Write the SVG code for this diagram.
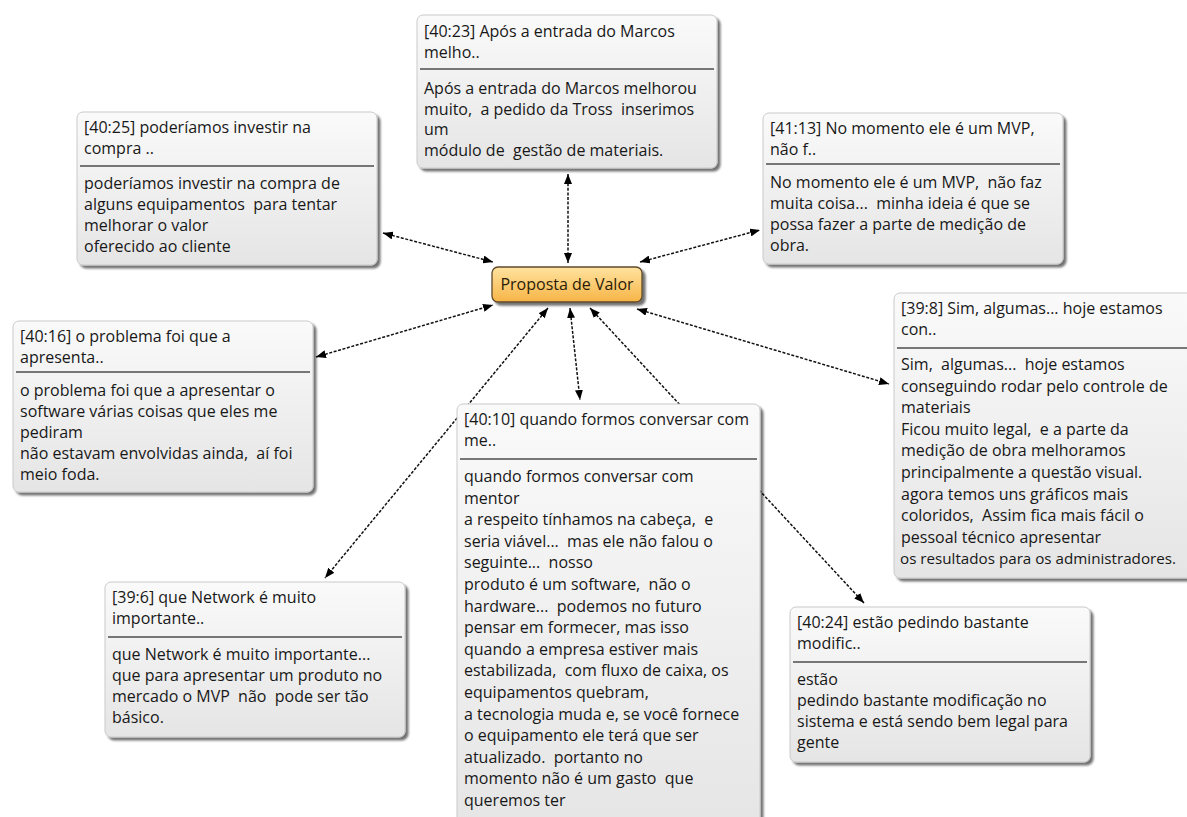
<svg xmlns="http://www.w3.org/2000/svg" width="1187" height="817" viewBox="0 0 1187 817" xml:space="preserve">
  <style>
    .box { fill: url(#boxFill); stroke: #c9c9c9; stroke-width: 1; filter: url(#shadow); }
    .sep { stroke: #4d4d4d; stroke-width: 1.6; }
    .txt { font-family: "Open Sans", "Liberation Sans", sans-serif; font-size: 16px; fill: #181818; white-space: pre; }
    .conn { fill: none; stroke: #111; stroke-width: 1.5; stroke-dasharray: 3 1.6; marker-start: url(#arrow); marker-end: url(#arrow); }
    .core { fill: url(#coreFill); stroke: #5e4a2c; stroke-width: 1.3; filter: url(#shadow); }
    .coreTxt { font-family: "Open Sans", "Liberation Sans", sans-serif; font-size: 16px; fill: #2a1c08; text-anchor: middle; }
  </style>
  <defs>
    <linearGradient id="boxFill" x1="0" y1="0" x2="0" y2="1">
      <stop offset="0" stop-color="#fafafa"/>
      <stop offset="1" stop-color="#e5e5e5"/>
    </linearGradient>
    <linearGradient id="coreFill" x1="0" y1="0" x2="0" y2="1">
      <stop offset="0" stop-color="#ffe3a0"/>
      <stop offset="1" stop-color="#f7b446"/>
    </linearGradient>
    <filter id="shadow" x="-10%" y="-10%" width="125%" height="125%">
      <feDropShadow dx="3" dy="3" stdDeviation="1.2" flood-color="#000" flood-opacity="0.55"/>
    </filter>
    <marker id="arrow" viewBox="0 0 10 8" refX="10" refY="4" markerWidth="10" markerHeight="8" markerUnits="userSpaceOnUse" orient="auto-start-reverse">
      <path d="M0,0 L10,4 L0,8 z" fill="#000"/>
    </marker>
  </defs>

  <rect width="1187" height="817" fill="#ffffff"/>

  <!-- dashed links between the central idea and each quotation -->
  <g id="connectors">
    <line class="conn" x1="568" y1="174" x2="568" y2="263"/>
    <line class="conn" x1="383" y1="233" x2="493" y2="262"/>
    <line class="conn" x1="640" y1="262" x2="760" y2="230"/>
    <line class="conn" x1="316" y1="357" x2="493" y2="305"/>
    <line class="conn" x1="637" y1="309" x2="889" y2="384"/>
    <line class="conn" x1="570" y1="308" x2="580" y2="400"/>
    <line class="conn" x1="548" y1="308" x2="325" y2="578"/>
    <line class="conn" x1="590" y1="308" x2="864" y2="603"/>
  </g>

  <g id="node-40-23" transform="translate(417,15)">
    <rect class="box" width="300" height="153" rx="6"/>
    <line class="sep" x1="3" y1="54" x2="297" y2="54"/>
    <text class="txt" x="7" y="22">[40:23] Após a entrada do Marcos</text>
    <text class="txt" x="7" y="43">melho..</text>
    <text class="txt" x="7" y="79">Após a entrada do Marcos melhorou</text>
    <text class="txt" x="7" y="100">muito,  a pedido da Tross  inserimos</text>
    <text class="txt" x="7" y="120">um</text>
    <text class="txt" x="7" y="141">módulo de  gestão de materiais.</text>
  </g>

  <g id="node-40-25" transform="translate(77,112)">
    <rect class="box" width="300" height="153" rx="6"/>
    <line class="sep" x1="3" y1="54" x2="297" y2="54"/>
    <text class="txt" x="7" y="21">[40:25] poderíamos investir na</text>
    <text class="txt" x="7" y="42">compra ..</text>
    <text class="txt" x="7" y="77">poderíamos investir na compra de</text>
    <text class="txt" x="7" y="98">alguns equipamentos  para tentar</text>
    <text class="txt" x="7" y="119">melhorar o valor</text>
    <text class="txt" x="7" y="140">oferecido ao cliente</text>
  </g>

  <g id="node-41-13" transform="translate(763,113)">
    <rect class="box" width="300" height="151" rx="6"/>
    <line class="sep" x1="3" y1="51" x2="297" y2="51"/>
    <text class="txt" x="7" y="21">[41:13] No momento ele é um MVP,</text>
    <text class="txt" x="7" y="42">não f..</text>
    <text class="txt" x="7" y="75">No momento ele é um MVP,  não faz</text>
    <text class="txt" x="7" y="96">muita coisa...  minha ideia é que se</text>
    <text class="txt" x="7" y="117">possa fazer a parte de medição de</text>
    <text class="txt" x="7" y="138">obra.</text>
  </g>

  <g id="node-40-16" transform="translate(13,321)">
    <rect class="box" width="300" height="171" rx="6"/>
    <line class="sep" x1="3" y1="51" x2="297" y2="51"/>
    <text class="txt" x="7" y="21">[40:16] o problema foi que a</text>
    <text class="txt" x="7" y="42">apresenta..</text>
    <text class="txt" x="7" y="75">o problema foi que a apresentar o</text>
    <text class="txt" x="7" y="96">software várias coisas que eles me</text>
    <text class="txt" x="7" y="117">pediram</text>
    <text class="txt" x="7" y="138">não estavam envolvidas ainda,  aí foi</text>
    <text class="txt" x="7" y="159">meio foda.</text>
  </g>

  <g id="node-39-8" transform="translate(894,293)">
    <rect class="box" width="300" height="285" rx="6"/>
    <line class="sep" x1="3" y1="55" x2="297" y2="55"/>
    <text class="txt" x="7" y="21">[39:8] Sim, algumas... hoje estamos</text>
    <text class="txt" x="7" y="42">con..</text>
    <text class="txt" x="7" y="77">Sim,  algumas...  hoje estamos</text>
    <text class="txt" x="7" y="98.6">conseguindo rodar pelo controle de</text>
    <text class="txt" x="7" y="120.2">materiais</text>
    <text class="txt" x="7" y="141.8">Ficou muito legal,  e a parte da</text>
    <text class="txt" x="7" y="163.4">medição de obra melhoramos</text>
    <text class="txt" x="7" y="185">principalmente a questão visual.</text>
    <text class="txt" x="7" y="206.6">agora temos uns gráficos mais</text>
    <text class="txt" x="7" y="228.2">coloridos,  Assim fica mais fácil o</text>
    <text class="txt" x="7" y="249.8">pessoal técnico apresentar</text>
    <text class="txt" x="6" y="271.4" style="font-size:15.2px">os resultados para os administradores.</text>
  </g>

  <g id="node-40-10" transform="translate(457,404)">
    <rect class="box" width="303" height="430" rx="6"/>
    <line class="sep" x1="3" y1="55" x2="300" y2="55"/>
    <text class="txt" x="7" y="21">[40:10] quando formos conversar com</text>
    <text class="txt" x="7" y="42">me..</text>
    <text class="txt" x="7" y="78">quando formos conversar com</text>
    <text class="txt" x="7" y="99.6">mentor</text>
    <text class="txt" x="7" y="121.2">a respeito tínhamos na cabeça,  e</text>
    <text class="txt" x="7" y="142.8">seria viável...  mas ele não falou o</text>
    <text class="txt" x="7" y="164.4">seguinte...  nosso</text>
    <text class="txt" x="7" y="186">produto é um software,  não o</text>
    <text class="txt" x="7" y="207.6">hardware...  podemos no futuro</text>
    <text class="txt" x="7" y="229.2">pensar em formecer, mas isso</text>
    <text class="txt" x="7" y="250.8">quando a empresa estiver mais</text>
    <text class="txt" x="7" y="272.4">estabilizada,  com fluxo de caixa, os</text>
    <text class="txt" x="7" y="294">equipamentos quebram,</text>
    <text class="txt" x="7" y="315.6">a tecnologia muda e, se você fornece</text>
    <text class="txt" x="7" y="337.2">o equipamento ele terá que ser</text>
    <text class="txt" x="7" y="358.8">atualizado.  portanto no</text>
    <text class="txt" x="7" y="380.4">momento não é um gasto  que</text>
    <text class="txt" x="7" y="402">queremos ter</text>
  </g>

  <g id="node-39-6" transform="translate(105,582)">
    <rect class="box" width="300" height="155" rx="6"/>
    <line class="sep" x1="3" y1="55" x2="297" y2="55"/>
    <text class="txt" x="7" y="21">[39:6] que Network é muito</text>
    <text class="txt" x="7" y="42">importante..</text>
    <text class="txt" x="7" y="78">que Network é muito importante...</text>
    <text class="txt" x="7" y="99">que para apresentar um produto no</text>
    <text class="txt" x="7" y="120">mercado o MVP  não  pode ser tão</text>
    <text class="txt" x="7" y="141">básico.</text>
  </g>

  <g id="node-40-24" transform="translate(790,607)">
    <rect class="box" width="300" height="155" rx="6"/>
    <line class="sep" x1="3" y1="55" x2="297" y2="55"/>
    <text class="txt" x="7" y="21">[40:24] estão pedindo bastante</text>
    <text class="txt" x="7" y="42">modific..</text>
    <text class="txt" x="7" y="78">estão</text>
    <text class="txt" x="7" y="99">pedindo bastante modificação no</text>
    <text class="txt" x="7" y="120">sistema e está sendo bem legal para</text>
    <text class="txt" x="7" y="141">gente</text>
  </g>

  <g id="node-proposta" transform="translate(492,267)">
    <rect class="core" width="150" height="35" rx="6"/>
    <text class="coreTxt" x="75" y="23">Proposta de Valor</text>
  </g>
</svg>
